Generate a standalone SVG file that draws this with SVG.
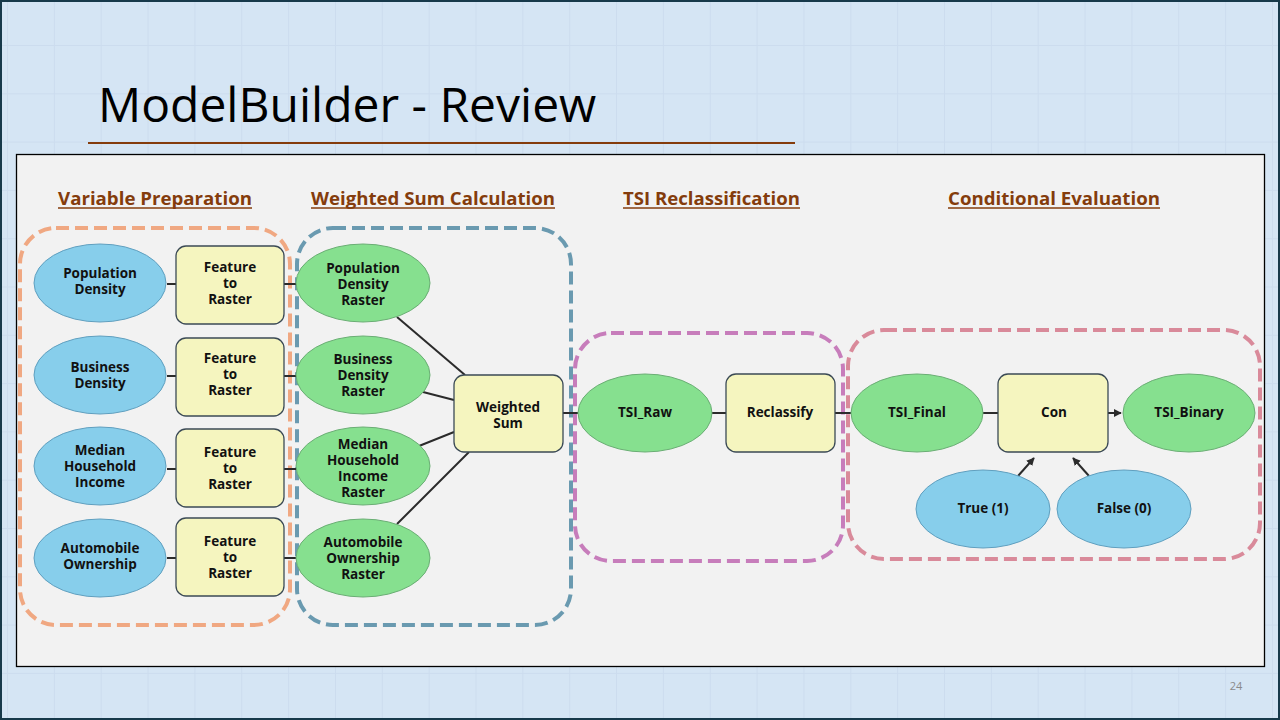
<svg xmlns="http://www.w3.org/2000/svg" width="1280" height="720" viewBox="0 0 1280 720">
<defs>
<pattern id="grid" x="7" y="-3.3" width="46.85" height="48.3" patternUnits="userSpaceOnUse">
<path d="M0 0V48.3M0 0H46.85" fill="none" stroke="#ccdcee" stroke-width="2"/>
</pattern>
<marker id="arr" viewBox="0 0 10 10" refX="9" refY="5" markerWidth="4" markerHeight="4" orient="auto-start-reverse">
<path d="M0 0L10 5L0 10z" fill="#2b2b2b"/>
</marker>
<style>
.hdr{font-family:"Open Sans","Noto Sans","Liberation Sans",sans-serif;font-weight:700;font-size:18.5px;fill:#843c0c}
.ul{stroke:#843c0c;stroke-width:1.5}
.lbl{font-family:"Open Sans","Noto Sans","Liberation Sans",sans-serif;font-weight:700;font-size:13.5px;fill:#111;text-anchor:middle}
.inp{fill:#87ceeb;stroke:#5f9fbf;stroke-width:1}
.out{fill:#86e08f;stroke:#6aae74;stroke-width:1}
.tool{fill:#f5f5bf;stroke:#3b4a55;stroke-width:1.3}
.grp{fill:none;stroke-width:4;stroke-dasharray:13 6}
.con{stroke:#2b2b2b;stroke-width:2;fill:none}
</style>
</defs>
<rect width="1280" height="720" fill="#d5e5f4"/>
<rect width="1280" height="720" fill="url(#grid)"/>
<rect x="1" y="1" width="1278" height="718" fill="none" stroke="#17394a" stroke-width="2"/>
<text x="98" y="122" font-family="Open Sans, Noto Sans, Liberation Sans, sans-serif" font-size="48" fill="#000">ModelBuilder - Review</text>
<line x1="88" y1="143" x2="795" y2="143" stroke="#843c0c" stroke-width="2"/>
<rect x="16.5" y="154.5" width="1248" height="512" fill="#f2f2f2" stroke="#000" stroke-width="1.3"/>

<g id="headers">
<text class="hdr" x="58" y="205" textLength="194" lengthAdjust="spacingAndGlyphs">Variable Preparation</text>
<line class="ul" x1="58" y1="208" x2="252" y2="208"/>
<text class="hdr" x="311" y="205" textLength="244" lengthAdjust="spacingAndGlyphs">Weighted Sum Calculation</text>
<line class="ul" x1="311" y1="208" x2="555" y2="208"/>
<text class="hdr" x="623" y="205" textLength="177" lengthAdjust="spacingAndGlyphs">TSI Reclassification</text>
<line class="ul" x1="623" y1="208" x2="800" y2="208"/>
<text class="hdr" x="948" y="205" textLength="212" lengthAdjust="spacingAndGlyphs">Conditional Evaluation</text>
<line class="ul" x1="948" y1="208" x2="1160" y2="208"/>
</g>

<g id="groups">
<rect class="grp" x="20" y="228" width="270" height="397" rx="36" stroke="#f0a882"/>
<rect class="grp" x="297" y="228" width="274" height="397" rx="36" stroke="#6a9ab0"/>
<rect class="grp" x="575" y="333" width="268" height="228" rx="36" stroke="#c77dbb"/>
<rect class="grp" x="848" y="330" width="412" height="229" rx="36" stroke="#d98a9a"/>
</g>

<g id="connectors">
<line class="con" x1="167" y1="284" x2="176" y2="284"/>
<line class="con" x1="167" y1="376" x2="176" y2="376"/>
<line class="con" x1="167" y1="469" x2="176" y2="469"/>
<line class="con" x1="167" y1="558" x2="176" y2="558"/>
<line class="con" x1="284" y1="284" x2="297" y2="284"/>
<line class="con" x1="284" y1="376" x2="297" y2="376"/>
<line class="con" x1="284" y1="469" x2="297" y2="469"/>
<line class="con" x1="284" y1="558" x2="297" y2="558"/>
<line class="con" x1="397" y1="317" x2="465" y2="375"/>
<line class="con" x1="423" y1="392" x2="454" y2="400"/>
<line class="con" x1="419" y1="446" x2="454" y2="432"/>
<line class="con" x1="397" y1="524" x2="469" y2="452"/>
<line class="con" x1="563" y1="413" x2="578" y2="413"/>
<line class="con" x1="711" y1="413" x2="726" y2="413"/>
<line class="con" x1="835" y1="413" x2="851" y2="413"/>
<line class="con" x1="983" y1="413" x2="998" y2="413"/>
<line class="con" x1="1108" y1="413" x2="1121" y2="413" marker-end="url(#arr)"/>
<line class="con" x1="1018" y1="476" x2="1034" y2="458" marker-end="url(#arr)"/>
<line class="con" x1="1089" y1="476" x2="1073" y2="458" marker-end="url(#arr)"/>
</g>

<g id="n-popdens"><ellipse class="inp" cx="100" cy="283" rx="66" ry="39"/><text class="lbl" x="100" y="278">Population</text><text class="lbl" x="100" y="294">Density</text></g>
<g id="n-busdens"><ellipse class="inp" cx="100" cy="375" rx="66" ry="39"/><text class="lbl" x="100" y="372">Business</text><text class="lbl" x="100" y="388">Density</text></g>
<g id="n-income"><ellipse class="inp" cx="100" cy="466" rx="66" ry="39"/><text class="lbl" x="100" y="455">Median</text><text class="lbl" x="100" y="471">Household</text><text class="lbl" x="100" y="487">Income</text></g>
<g id="n-auto"><ellipse class="inp" cx="100" cy="558" rx="66" ry="39"/><text class="lbl" x="100" y="553">Automobile</text><text class="lbl" x="100" y="569">Ownership</text></g>

<g id="t-f2r1"><rect class="tool" x="176" y="246" width="108" height="78" rx="10"/><text class="lbl" x="230" y="272">Feature</text><text class="lbl" x="230" y="288">to</text><text class="lbl" x="230" y="304">Raster</text></g>
<g id="t-f2r2"><rect class="tool" x="176" y="338" width="108" height="78" rx="10"/><text class="lbl" x="230" y="363">Feature</text><text class="lbl" x="230" y="379">to</text><text class="lbl" x="230" y="395">Raster</text></g>
<g id="t-f2r3"><rect class="tool" x="176" y="429" width="108" height="78" rx="10"/><text class="lbl" x="230" y="457">Feature</text><text class="lbl" x="230" y="473">to</text><text class="lbl" x="230" y="489">Raster</text></g>
<g id="t-f2r4"><rect class="tool" x="176" y="518" width="108" height="78" rx="10"/><text class="lbl" x="230" y="546">Feature</text><text class="lbl" x="230" y="562">to</text><text class="lbl" x="230" y="578">Raster</text></g>

<g id="n-popras"><ellipse class="out" cx="363" cy="283" rx="67" ry="39"/><text class="lbl" x="363" y="273">Population</text><text class="lbl" x="363" y="289">Density</text><text class="lbl" x="363" y="305">Raster</text></g>
<g id="n-busras"><ellipse class="out" cx="363" cy="375" rx="67" ry="39"/><text class="lbl" x="363" y="364">Business</text><text class="lbl" x="363" y="380">Density</text><text class="lbl" x="363" y="396">Raster</text></g>
<g id="n-incras"><ellipse class="out" cx="363" cy="466" rx="67" ry="39"/><text class="lbl" x="363" y="449">Median</text><text class="lbl" x="363" y="465">Household</text><text class="lbl" x="363" y="481">Income</text><text class="lbl" x="363" y="497">Raster</text></g>
<g id="n-autoras"><ellipse class="out" cx="363" cy="558" rx="67" ry="39"/><text class="lbl" x="363" y="547">Automobile</text><text class="lbl" x="363" y="563">Ownership</text><text class="lbl" x="363" y="579">Raster</text></g>

<g id="t-wsum"><rect class="tool" x="454" y="375" width="109" height="77" rx="10"/><text class="lbl" x="508" y="412">Weighted</text><text class="lbl" x="508" y="428">Sum</text></g>
<g id="n-tsiraw"><ellipse class="out" cx="645" cy="413" rx="67" ry="39"/><text class="lbl" x="645" y="417">TSI_Raw</text></g>
<g id="t-reclass"><rect class="tool" x="726" y="374" width="109" height="78" rx="10"/><text class="lbl" x="780" y="417">Reclassify</text></g>
<g id="n-tsifinal"><ellipse class="out" cx="917" cy="413" rx="66" ry="39"/><text class="lbl" x="917" y="417">TSI_Final</text></g>
<g id="t-con"><rect class="tool" x="998" y="374" width="110" height="78" rx="10"/><text class="lbl" x="1054" y="417">Con</text></g>
<g id="n-tsibin"><ellipse class="out" cx="1189" cy="413" rx="66" ry="39"/><text class="lbl" x="1189" y="417">TSI_Binary</text></g>
<g id="n-true"><ellipse class="inp" cx="983" cy="509" rx="67" ry="39"/><text class="lbl" x="983" y="513">True (1)</text></g>
<g id="n-false"><ellipse class="inp" cx="1124" cy="509" rx="67" ry="39"/><text class="lbl" x="1124" y="513">False (0)</text></g>

<text x="1236" y="690" font-family="Open Sans, Noto Sans, Liberation Sans, sans-serif" font-size="11" fill="#8a8a8a" text-anchor="middle">24</text>
</svg>
